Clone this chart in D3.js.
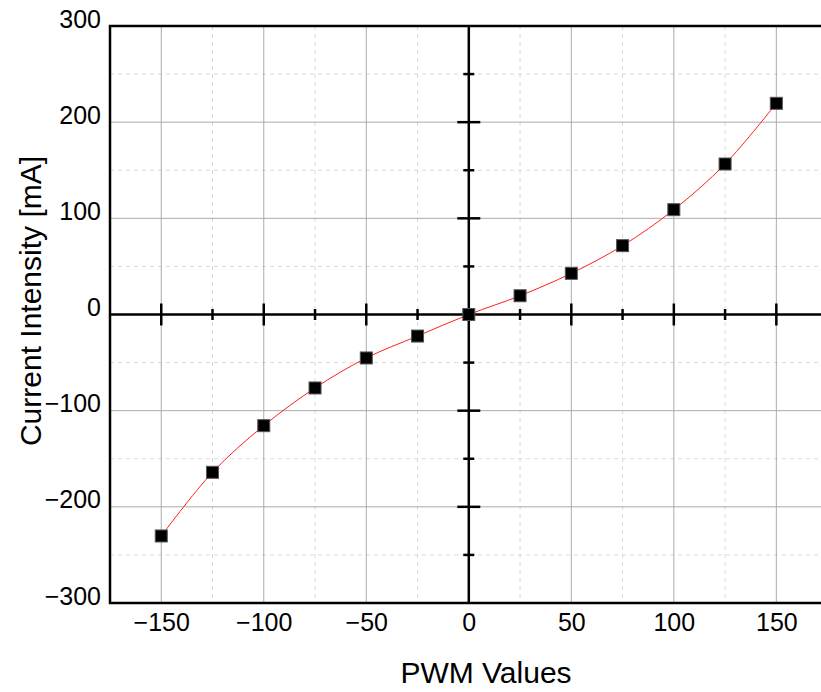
<!DOCTYPE html>
<html>
<head>
<meta charset="utf-8">
<script src="https://cdn.jsdelivr.net/npm/d3@7"></script>
<style>
  body { margin: 0; background: #fff; }
  svg { display: block; font-family: "Liberation Sans", Arial, sans-serif; }
</style>
</head>
<body>
<svg id="chart" width="821" height="692"></svg>
<script>
// measured PWM vs current
const pwm = [-150, -125, -100, -75, -50, -25, 0, 25, 50, 75, 100, 125, 150];
const current = [-230.3, -164.1, -115.6, -76.4, -45.2, -22.4, 0, 19.5, 42.8, 71.6, 109, 156.5, 219.6];

const xTicks = [-150, -100, -50, 0, 50, 100, 150];
const xMinor = [-175, -125, -75, -25, 25, 75, 125, 175];
const yTicks = [-300, -200, -100, 0, 100, 200, 300];
const yMinor = [-250, -150, -50, 50, 150, 250];

const svg = d3.select('#chart');

const plotLeft = 110, plotTop = 26, plotBottom = 603;
const x = d3.scaleLinear().domain([-175, 175]).range([plotLeft, 827.6]);
const y = d3.scaleLinear().domain([-300, 300]).range([plotBottom, plotTop]);

// grid
const grid = svg.append('g');
grid.selectAll('.vmin').data(xMinor).enter().append('line')
  .attr('x1', (d) => x(d)).attr('x2', (d) => x(d))
  .attr('y1', plotTop).attr('y2', plotBottom)
  .attr('stroke', '#d9d9d9').attr('stroke-dasharray', '4,4');
grid.selectAll('.hmin').data(yMinor).enter().append('line')
  .attr('x1', plotLeft).attr('x2', 830)
  .attr('y1', (d) => y(d)).attr('y2', (d) => y(d))
  .attr('stroke', '#d9d9d9').attr('stroke-dasharray', '4,4');
grid.selectAll('.vmaj').data(xTicks).enter().append('line')
  .attr('x1', (d) => x(d)).attr('x2', (d) => x(d))
  .attr('y1', plotTop).attr('y2', plotBottom)
  .attr('stroke', '#ababab').attr('stroke-width', 1);
grid.selectAll('.hmaj').data(yTicks).enter().append('line')
  .attr('x1', plotLeft).attr('x2', 830)
  .attr('y1', (d) => y(d)).attr('y2', (d) => y(d))
  .attr('stroke', '#ababab').attr('stroke-width', 1);

// frame (right edge falls outside the window)
svg.append('path')
  .attr('d', `M${x(175)},${plotTop}H${plotLeft}V${plotBottom}H${x(175)}`)
  .attr('fill', 'none').attr('stroke', '#000').attr('stroke-width', 2.5);

// axes through origin
const axes = svg.append('g').attr('stroke', '#000');
axes.append('line').attr('x1', plotLeft).attr('x2', 830)
  .attr('y1', y(0)).attr('y2', y(0)).attr('stroke-width', 2.5);
axes.append('line').attr('x1', x(0)).attr('x2', x(0))
  .attr('y1', plotTop).attr('y2', plotBottom).attr('stroke-width', 2.5);

// crossing ticks on the x=0 / y=0 axes
axes.selectAll('.xt').data(xTicks.filter((d) => d !== 0)).enter().append('line')
  .attr('x1', (d) => x(d)).attr('x2', (d) => x(d))
  .attr('y1', y(0) - 11).attr('y2', y(0) + 11).attr('stroke-width', 2.5);
axes.selectAll('.xm').data(xMinor.filter((d) => Math.abs(d) < 175)).enter().append('line')
  .attr('x1', (d) => x(d)).attr('x2', (d) => x(d))
  .attr('y1', y(0) - 5.5).attr('y2', y(0) + 5.5).attr('stroke-width', 2.5);
axes.selectAll('.yt').data(yTicks.filter((d) => d !== 0 && Math.abs(d) < 300)).enter().append('line')
  .attr('y1', (d) => y(d)).attr('y2', (d) => y(d))
  .attr('x1', x(0) - 11.5).attr('x2', x(0) + 11.5).attr('stroke-width', 2.5);
axes.selectAll('.ym').data(yMinor).enter().append('line')
  .attr('y1', (d) => y(d)).attr('y2', (d) => y(d))
  .attr('x1', x(0) - 5.5).attr('x2', x(0) + 5.5).attr('stroke-width', 2.5);

// tick labels via d3 axes
const xAxis = svg.append('g')
  .attr('transform', `translate(0,${plotBottom})`)
  .call(d3.axisBottom(x).tickValues(xTicks).tickSize(0).tickPadding(0));
xAxis.select('.domain').remove();
xAxis.selectAll('text')
  .attr('y', 28).attr('dy', 0)
  .attr('font-size', 25).attr('fill', '#000')
  .attr('font-family', '"Liberation Sans", Arial, sans-serif');

const yAxis = svg.append('g')
  .attr('transform', `translate(${plotLeft},0)`)
  .call(d3.axisLeft(y).tickValues(yTicks).tickSize(0).tickPadding(0));
yAxis.select('.domain').remove();
yAxis.selectAll('text')
  .attr('x', -9).attr('dy', 1)
  .attr('font-size', 25).attr('fill', '#000')
  .attr('font-family', '"Liberation Sans", Arial, sans-serif');

// data line
const pts = pwm.map((p, i) => [p, current[i]]);
const line = d3.line()
  .curve(d3.curveCatmullRom)
  .x((d) => x(d[0]))
  .y((d) => y(d[1]));

svg.append('path')
  .attr('d', line(pts))
  .attr('fill', 'none')
  .attr('stroke', '#ff2020')
  .attr('stroke-width', 1);

// markers
const s = 12;
svg.append('g').selectAll('rect').data(pts).enter().append('rect')
  .attr('x', (d) => x(d[0]) - s / 2)
  .attr('y', (d) => y(d[1]) - s / 2)
  .attr('width', s).attr('height', s)
  .attr('fill', '#000')
  .attr('stroke', '#555').attr('stroke-width', 1);

// axis titles
svg.append('text')
  .attr('x', 486).attr('y', 683)
  .attr('text-anchor', 'middle')
  .attr('font-size', 30)
  .text('PWM Values');

svg.append('text')
  .attr('transform', 'translate(41,301) rotate(-90)')
  .attr('text-anchor', 'middle')
  .attr('font-size', 30)
  .text('Current Intensity [mA]');
</script>
</body>
</html>
